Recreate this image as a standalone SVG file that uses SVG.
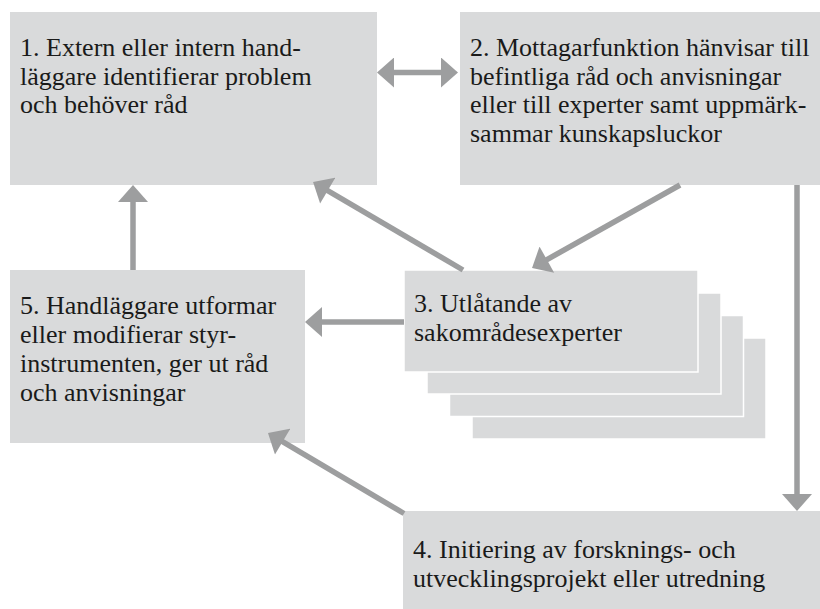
<svg xmlns="http://www.w3.org/2000/svg" width="820" height="609" viewBox="0 0 820 609">
<style>
.box{fill:#d9dadb;}
.stk{fill:#d9dadb;stroke:#ffffff;stroke-width:1.5;}
.t{font-family:"Liberation Serif","Times New Roman",serif;font-size:26px;fill:#1a1a1a;}
.c{stroke:#9d9e9f;stroke-width:5.5;fill:none;}
</style>
<defs>
<marker id="ah" markerUnits="userSpaceOnUse" markerWidth="18" markerHeight="30" viewBox="0 0 17 30" refX="5" refY="15" orient="auto-start-reverse">
<path d="M0,0 L17,15 L0,30 z" fill="#9d9e9f"/>
</marker>
</defs>
<rect width="820" height="609" fill="#ffffff"/>
<g id="node1">
<rect class="box" x="10" y="12" width="367" height="173"/>
<text class="t"><tspan x="20" y="56">1. Extern eller intern hand-</tspan><tspan x="20" y="84.5">läggare identifierar problem</tspan><tspan x="20" y="113">och behöver råd</tspan></text>
</g>
<g id="node2">
<rect class="box" x="460" y="12" width="360" height="173"/>
<text class="t"><tspan x="470" y="56">2. Mottagarfunktion hänvisar till</tspan><tspan x="470" y="84.5">befintliga råd och anvisningar</tspan><tspan x="470" y="113">eller till experter samt uppmärk-</tspan><tspan x="470" y="141.5">sammar kunskapsluckor</tspan></text>
</g>
<g id="node3">
<rect class="stk" x="472" y="338" width="294" height="101"/>
<rect class="stk" x="449.5" y="315.5" width="294" height="101"/>
<rect class="stk" x="427" y="293" width="294" height="101"/>
<rect class="stk" x="404" y="270" width="294" height="102"/>
<text class="t"><tspan x="414" y="312">3. Utlåtande av</tspan><tspan x="414" y="341">sakområdesexperter</tspan></text>
</g>
<g id="node4">
<rect class="box" x="403" y="511" width="417" height="98"/>
<text class="t"><tspan x="413" y="558">4. Initiering av forsknings- och</tspan><tspan x="413" y="586.5">utvecklingsprojekt eller utredning</tspan></text>
</g>
<g id="node5">
<rect class="box" x="10" y="270" width="295" height="173"/>
<text class="t"><tspan x="20" y="314">5. Handläggare utformar</tspan><tspan x="20" y="343">eller modifierar styr-</tspan><tspan x="20" y="372">instrumenten, ger ut råd</tspan><tspan x="20" y="401">och anvisningar</tspan></text>
</g>
<g id="connectors">
<line class="c" x1="389" y1="72.5" x2="446" y2="72.5" marker-start="url(#ah)" marker-end="url(#ah)"/>
<line class="c" x1="133" y1="270" x2="133" y2="197" marker-end="url(#ah)"/>
<line class="c" x1="463" y1="270" x2="323.4" y2="188.1" marker-end="url(#ah)"/>
<line class="c" x1="680" y1="185" x2="542.5" y2="262.1" marker-end="url(#ah)"/>
<line class="c" x1="404" y1="322" x2="317" y2="322" marker-end="url(#ah)"/>
<line class="c" x1="797" y1="185" x2="797" y2="499" marker-end="url(#ah)"/>
<line class="c" x1="404" y1="513.5" x2="278.3" y2="439.1" marker-end="url(#ah)"/>
</g>
</svg>
